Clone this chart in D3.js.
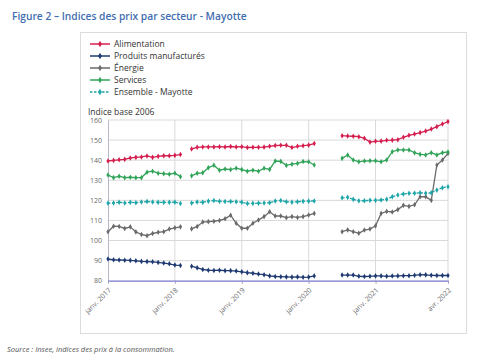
<!DOCTYPE html>
<html><head><meta charset="utf-8">
<script src="https://cdn.jsdelivr.net/npm/d3@7"></script>
<style>
html,body{margin:0;padding:0;background:#fff;}
text{font-family:"Open Sans","Noto Sans",sans-serif;}
</style></head>
<body><svg id="c" width="485" height="360"></svg>
<script>
// ---- data (month index 0 = janv. 2017) ----
const seriesNames = ["Alimentation","Produits manufacturés","Énergie","Services","Ensemble - Mayotte"];
const seriesColors = ["#d41f4e","#1f3a72","#6a6a6a","#32a45a","#1ea6a8"];
const segmentStarts = [0, 15, 42];
const alimentation = [
 [139.6,139.9,140.2,140.4,141.1,141.4,141.6,142.1,141.4,141.9,142.2,142.2,142.4,142.8],
 [145.6,146.4,146.6,146.6,146.6,146.7,146.6,146.8,146.6,146.7,146.3,146.4,146.4,146.5,146.9,147.3,147.4,147.4,146.3,146.9,147.2,147.5,148.3],
 [152.2,152.0,151.9,151.7,150.9,149.0,149.4,149.5,149.9,150.0,150.2,151.4,152.4,153.0,153.7,154.5,155.5,156.7,158.0,159.2]
];
const produitsManufactures = [
 [90.8,90.4,90.3,90.2,90.1,89.9,89.6,89.5,89.4,89.1,88.8,88.4,87.8,87.6],
 [87.2,86.4,85.6,85.2,85.1,85.2,85.0,85.0,84.8,84.4,84.0,83.7,83.3,83.0,82.4,82.1,82.0,81.9,81.8,81.9,81.7,81.8,82.4],
 [82.8,82.8,82.8,82.2,82.1,82.2,82.4,82.4,82.2,82.3,82.4,82.5,82.5,82.7,83.0,82.9,82.7,82.6,82.6,82.6]
];
const energie = [
 [104.4,107.1,107.0,106.0,106.8,104.3,103.0,102.4,103.5,104.1,104.4,105.7,106.3,106.8],
 [105.8,107.0,109.2,109.4,109.6,110.0,110.8,112.6,108.6,106.1,106.1,108.6,110.2,111.9,114.3,112.2,112.2,111.4,111.9,111.5,111.9,112.7,113.5],
 [104.4,105.3,104.4,103.6,105.2,105.7,107.3,113.5,114.5,114.2,115.4,117.5,117.0,117.8,121.8,121.8,120.0,137.6,140.1,143.4]
];
const services = [
 [132.6,131.3,132.0,131.3,131.5,131.3,131.3,134.0,134.5,133.5,133.3,133.0,133.5,131.8],
 [132.2,133.5,133.7,136.2,137.5,135.0,135.6,135.3,136.0,135.3,134.5,135.0,134.5,136.0,135.4,139.6,139.4,137.4,138.0,138.4,139.3,139.2,137.6],
 [140.9,142.6,140.1,139.2,139.6,139.7,139.7,139.2,140.1,144.2,145.1,145.1,145.1,143.7,142.9,142.6,143.7,142.6,143.7,144.1]
];
const ensemble = [
 [118.6,118.7,119.0,118.7,119.0,118.8,119.2,119.4,119.2,119.0,119.0,119.0,119.1,118.4],
 [118.7,119.2,119.0,119.6,119.9,119.5,119.4,119.4,119.3,119.1,118.4,118.5,118.6,118.7,118.8,119.7,119.9,119.3,119.1,119.3,119.5,119.6,119.7],
 [121.3,121.5,120.5,119.8,119.8,120.0,120.0,120.2,120.5,121.8,122.7,123.2,123.5,123.5,123.8,123.5,123.8,125.1,126.3,126.8]
];
const tickIndex = [0,12,24,36,48,61];
const tickLabels = ["janv. 2017","janv. 2018","janv. 2019","janv. 2020","janv. 2021","avr. 2022"];
const yTicks = [80,90,100,110,120,130,140,150,160];

const allSeries = [alimentation, produitsManufactures, energie, services, ensemble];

const svg = d3.select("#c");
const x = d3.scaleLinear().domain([0,61]).range([108,448]);
const y = d3.scaleLinear().domain([80,160]).range([280.7,120]);

// title
const title = svg.append("text").attr("x",12).attr("y",20)
  .attr("fill","#3f6db0").attr("font-weight",600).attr("font-size",12)
  .text("Figure 2 – Indices des prix par secteur - Mayotte");
{ const w = title.node().getComputedTextLength(); title.attr("font-size", 12*235/w); }

// frame
svg.append("rect").attr("x",80.5).attr("y",32.5).attr("width",386).attr("height",301)
  .attr("fill","none").attr("stroke","#dcdcdc");

// gridlines
svg.append("g").selectAll("line").data(yTicks.slice(1)).join("line")
  .attr("x1",108).attr("x2",448).attr("y1",d=>y(d)).attr("y2",d=>y(d))
  .attr("stroke","#d9d9d9").attr("stroke-width",1);
svg.append("g").selectAll("line").data(tickIndex.slice(1)).join("line")
  .attr("x1",d=>x(d)).attr("x2",d=>x(d)).attr("y1",y(160)).attr("y2",y(80))
  .attr("stroke","#d9d9d9").attr("stroke-width",1);

// y axis
const ya = svg.append("g").attr("transform","translate(108,0)")
  .call(d3.axisLeft(y).tickValues(yTicks).tickSize(0).tickPadding(6));
ya.select(".domain").attr("stroke","#b8b8c8");
ya.selectAll("text").attr("font-size",7).attr("fill","#6a6a6a").attr("font-family","'Open Sans',sans-serif");

// x axis
const xa = svg.append("g").attr("transform",`translate(0,${y(80)})`)
  .call(d3.axisBottom(x).tickValues(tickIndex).tickFormat((d,i)=>tickLabels[i]).tickSize(3).tickSizeOuter(0));
xa.select(".domain").attr("stroke","#7777cc").attr("stroke-width",1.3);
xa.selectAll(".tick line").attr("stroke","#9a9acc");
xa.selectAll("text").attr("font-size",7).attr("fill","#6a6a6a")
  .attr("font-family","'Open Sans',sans-serif")
  .attr("text-anchor","end").attr("dy",0).attr("y",0).attr("x",0)
  .attr("transform","translate(3,10) rotate(-45)");

// axis title
svg.append("text").attr("x",88).attr("y",115).attr("font-size",8.5).attr("fill","#333")
  .text("Indice base 2006");

// series
const line = d3.line().x(d=>x(d.i)).y(d=>y(d.v));
allSeries.forEach((segs,si)=>{
  const g = svg.append("g");
  segs.forEach((seg,k)=>{
    const pts = seg.map((v,j)=>({i:segmentStarts[k]+j, v}));
    g.append("path").datum(pts).attr("d",line).attr("fill","none")
      .attr("stroke",seriesColors[si]).attr("stroke-width",1.3)
      .attr("stroke-dasharray", si===4 ? "2.5,1.5" : null);
    g.selectAll(null).data(pts).join("path")
      .attr("transform",d=>`translate(${x(d.i)},${y(d.v)})`)
      .attr("d",d3.symbol(d3.symbolDiamond,9))
      .attr("fill",seriesColors[si]);
  });
});

// legend
const lg = svg.append("g");
seriesNames.forEach((n,i)=>{
  const yy = 44 + i*12;
  lg.append("line").attr("x1",90).attr("x2",110).attr("y1",yy).attr("y2",yy)
    .attr("stroke",seriesColors[i]).attr("stroke-width",1.5)
    .attr("stroke-dasharray", i===4 ? "2.5,1.5" : null);
  lg.append("path").attr("transform",`translate(100,${yy})`)
    .attr("d",d3.symbol(d3.symbolDiamond,12)).attr("fill",seriesColors[i]);
  lg.append("text").attr("x",114).attr("y",yy+3).attr("font-size",8.5).attr("fill","#333").text(n);
});

// source
svg.append("text").attr("x",7).attr("y",352).attr("font-size",7.5).attr("font-style","italic")
  .attr("fill","#555").text("Source : Insee, indices des prix à la consommation.");
</script></body></html>
